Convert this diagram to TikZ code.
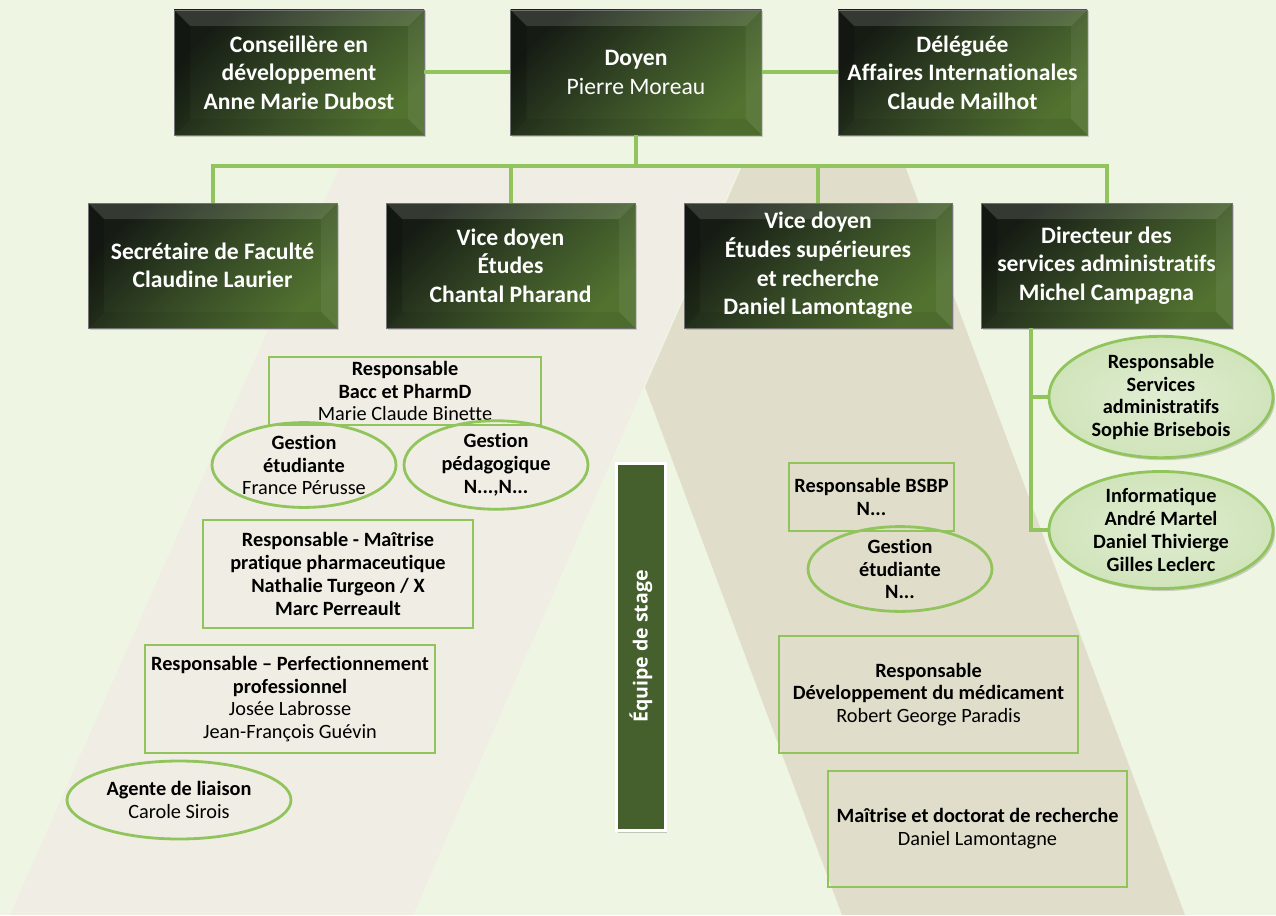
\documentclass[tikz,border=0pt]{standalone}
\usepackage{fontspec}
\setmainfont{Carlito}[Ligatures=NoCommon]
\newfontfamily\eqfont{Open Sans}
\usetikzlibrary{shadows,shapes.geometric}
\definecolor{bg}{RGB}{239,245,227}
\definecolor{bandA}{RGB}{240,238,228}
\definecolor{bandB}{RGB}{225,221,203}
\definecolor{lnk}{RGB}{146,196,94}
\definecolor{gdark}{RGB}{22,28,20}
\definecolor{gmid}{RGB}{54,74,38}
\definecolor{glight}{RGB}{82,114,48}
\definecolor{eqgreen}{RGB}{70,96,45}
\definecolor{ellin}{RGB}{224,237,210}
\definecolor{ellout}{RGB}{208,228,186}
\begin{document}
\begin{tikzpicture}[x=1pt,y=-1pt,
  bevel/.style={path picture={
    \fill[white,opacity=0.13] (path picture bounding box.north west) -- (path picture bounding box.north east)
      -- ([xshift=-16pt,yshift=-16pt]path picture bounding box.north east) -- ([xshift=16pt,yshift=-16pt]path picture bounding box.north west) -- cycle;
    \fill[white,opacity=0.06] (path picture bounding box.north east) -- (path picture bounding box.south east)
      -- ([xshift=-16pt,yshift=16pt]path picture bounding box.south east) -- ([xshift=-16pt,yshift=-16pt]path picture bounding box.north east) -- cycle;
    \fill[black,opacity=0.06] (path picture bounding box.south east) -- (path picture bounding box.south west)
      -- ([xshift=16pt,yshift=16pt]path picture bounding box.south west) -- ([xshift=-16pt,yshift=16pt]path picture bounding box.south east) -- cycle;
    \fill[black,opacity=0.15] (path picture bounding box.south west) -- (path picture bounding box.north west)
      -- ([xshift=16pt,yshift=-16pt]path picture bounding box.north west) -- ([xshift=16pt,yshift=16pt]path picture bounding box.south west) -- cycle;
  }},
  dbox/.style={rectangle, minimum width=#1, minimum height=125pt, inner sep=2pt, align=center,
    text=white, font=\fontsize{23.6}{28.6}\selectfont\bfseries,
    top color=gdark, bottom color=glight, middle color=gmid, shading angle=45,
    draw=black!55, line width=0.6pt, bevel,
    drop shadow={opacity=0.35,shadow xshift=1.5pt,shadow yshift=-1.5pt}},
  lbox/.style={rectangle, draw=lnk, line width=2.8pt, align=center, inner sep=1pt,
    font=\fontsize{20.3}{22.8}\selectfont, minimum width=#1},
  lell/.style={ellipse, draw=lnk, line width=2.8pt, align=center, inner sep=0pt,
    font=\fontsize{20.3}{22.8}\selectfont},
  rell/.style={lell, inner color=ellin, outer color=ellout,
    drop shadow={opacity=0.35,shadow xshift=2pt,shadow yshift=-2.5pt}},
  conn/.style={draw=lnk, line width=4pt}
]
\useasboundingbox (0,0) rectangle (1276,915);
\fill[bg] (0,0) rectangle (1276,915);
% background bands
\fill[bandA] (340,166) -- (740,166) -- (413,915) -- (10,915) -- cycle;
\fill[bandB] (742,166) -- (905,166) -- (1185,915) -- (842,915) -- (645,387) -- cycle;

\coordinate (bus) at (0,166);
\coordinate (trunk) at (1031,0);

% top row
\node[dbox=250pt] (cons) at (299,72.5) {Conseillère en\\développement\\Anne Marie Dubost};
\node[dbox=251pt] (doyen) at (636,72.5) {Doyen\\\mdseries Pierre Moreau};
\node[dbox=249pt] (deleg) at (962.5,72.5) {Déléguée\\Affaires Internationales\\Claude Mailhot};
\draw[conn] (cons.east) -- (doyen.west);
\draw[conn] (doyen.east) -- (deleg.west);

% second row
\node[dbox=249pt] (sec) at (212.5,265.5) {Secrétaire de Faculté\\Claudine Laurier};
\node[dbox=249pt] (vde) at (510.5,265.5) {Vice doyen\\Études\\Chantal Pharand};
\node[dbox=268pt] (vdesr) at (818,265.5) {Vice doyen\\Études supérieures\\et recherche\\Daniel Lamontagne};
\node[dbox=251pt] (dir) at (1106.5,265.5) {Directeur des\\services administratifs\\Michel Campagna};

\draw[conn] (doyen.south) -- (doyen.south |- bus);
\draw[conn] ([xshift=-2pt]sec.north |- bus) -- ([xshift=2pt]dir.north |- bus);
\draw[conn] (sec.north) -- (sec.north |- bus);
\draw[conn] (vde.north) -- (vde.north |- bus);
\draw[conn] (vdesr.north) -- (vdesr.north |- bus);
\draw[conn] (dir.north) -- (dir.north |- bus);

% right ellipses
\node[rell, minimum width=224pt, minimum height=114pt] (serv) at (1161,397)
  {\bfseries Responsable\\\bfseries Services\\\bfseries administratifs\\\bfseries Sophie Brisebois};
\node[rell, minimum width=224pt, minimum height=114pt] (info) at (1161,530)
  {\bfseries Informatique\\\bfseries André Martel\\\bfseries Daniel Thivierge\\\bfseries Gilles Leclerc};
\draw[conn] (dir.south -| trunk) -- (trunk |- info.west) -- (info.west);
\draw[conn] (trunk |- serv.west) -- (serv.west);

% left column
\node[lbox=272pt, minimum height=68pt] (bacc) at (405,391)
  {\bfseries Responsable\\\bfseries Bacc et PharmD\\Marie Claude Binette};
\node[lell, minimum width=184pt, minimum height=76pt] (gete) at (304,465)
  {\bfseries Gestion\\\bfseries étudiante\\France Pérusse};
\node[lell, minimum width=184pt, minimum height=76pt] (gped) at (496,465)
  {\bfseries Gestion\\\bfseries pédagogique\\\bfseries N...,N...};
\node[lbox=270pt, minimum height=108pt] (mpp) at (338,574)
  {\bfseries Responsable - Maîtrise\\\bfseries pratique pharmaceutique\\\bfseries Nathalie Turgeon / X\\\bfseries Marc Perreault};
\node[lbox=290pt, minimum height=108pt] (perf) at (290,699)
  {\bfseries Responsable -- Perfectionnement\\\bfseries professionnel\\Josée Labrosse\\Jean-François Guévin};
\node[lell, minimum width=224pt, minimum height=78pt] (agent) at (179,800)
  {\bfseries Agente de liaison\\Carole Sirois};

% equipe de stage
\node[rectangle, rotate=90, fill=eqgreen, draw=white, line width=3pt, minimum width=367pt, minimum height=49pt,
  text=white, font=\eqfont\fontsize{19.5}{22}\selectfont\bfseries,
  drop shadow={opacity=0.4,shadow xshift=1.5pt,shadow yshift=-2.5pt}] (equipe) at (641,646.5) {Équipe de stage};

% right column
\node[lbox=165pt, minimum height=68pt] (bsbp) at (871.5,497)
  {\bfseries Responsable BSBP\\\bfseries N...};
\node[lell, minimum width=184pt, minimum height=74pt] (ge2) at (900,569)
  {\bfseries Gestion\\\bfseries étudiante\\\bfseries N...};
\node[lbox=299pt, minimum height=117pt] (dev) at (928.5,694.5)
  {\bfseries Responsable\\\bfseries Développement du médicament\\Robert George Paradis};
\node[lbox=299pt, minimum height=116pt] (mdr) at (977.5,829)
  {\bfseries Maîtrise et doctorat de recherche\\Daniel Lamontagne};
\end{tikzpicture}
\end{document}
